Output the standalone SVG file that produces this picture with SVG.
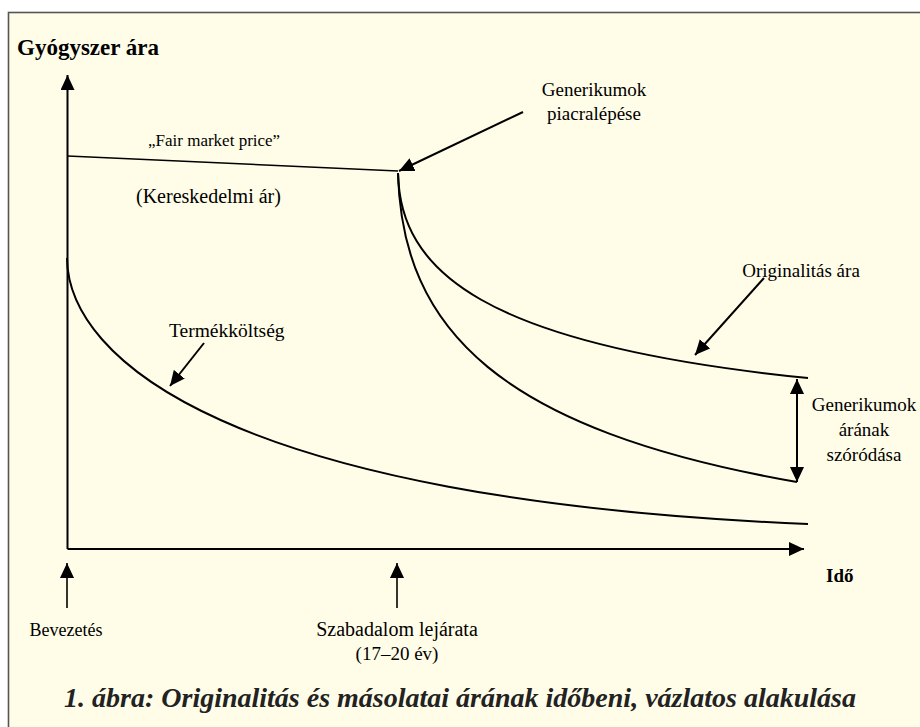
<svg xmlns="http://www.w3.org/2000/svg" width="920" height="727" viewBox="0 0 920 727">
<defs>
<style>
.bg{fill:#FFFDE8;stroke:#555;stroke-width:1.6}
.ln{fill:none;stroke:#000;stroke-width:2}
.thin{fill:none;stroke:#000;stroke-width:1.6}
text{font-family:"Liberation Serif","Times New Roman",Times,"Nimbus Roman",FreeSerif,"Noto Serif","DejaVu Serif",serif}
.t{fill:#000}
.b{font-weight:bold;fill:#000}
.cap{font-weight:bold;font-style:italic;fill:#222}
</style>
<marker id="ah" viewBox="0 0 15 14" refX="15" refY="7" markerWidth="15" markerHeight="14" markerUnits="userSpaceOnUse" orient="auto-start-reverse">
<path d="M0,0 L15,7 L0,14 Z" fill="#000"/>
</marker>
</defs>
<rect class="bg" x="8.5" y="12.5" width="1000" height="1000"/>
<g id="connectors">
<line class="ln" x1="67.5" y1="549" x2="67.5" y2="75" marker-end="url(#ah)"/>
<line class="ln" x1="67.5" y1="549" x2="804" y2="549" marker-end="url(#ah)"/>
<line class="thin" x1="67.5" y1="156" x2="398" y2="171"/>
<path class="ln" d="M398,173 C400,270 480,345 808,378"/>
<path class="ln" d="M398,173 C402,330 500,430 797,482"/>
<path class="ln" d="M67,258 C68,360 230,500 808,524"/>
<line class="ln" x1="523" y1="112" x2="399" y2="171" marker-end="url(#ah)"/>
<line class="ln" x1="764" y1="278" x2="695" y2="355" marker-end="url(#ah)"/>
<line class="ln" x1="204" y1="343" x2="170" y2="386" marker-end="url(#ah)"/>
<line class="ln" x1="797" y1="379" x2="797" y2="482" marker-start="url(#ah)" marker-end="url(#ah)"/>
<line class="thin" x1="67" y1="608" x2="67" y2="563" marker-end="url(#ah)"/>
<line class="thin" x1="397" y1="608" x2="397" y2="563" marker-end="url(#ah)"/>
</g>
<g id="y-axis-label"><text class="b" x="17" y="55" font-size="23">Gyógyszer ára</text></g>
<g id="x-axis-label"><text class="b" x="826" y="582" font-size="19">Idő</text></g>
<g id="fair-market"><text class="t" x="148" y="146" font-size="17">„Fair market price”</text></g>
<g id="kereskedelmi"><text class="t" x="136" y="203" font-size="20">(Kereskedelmi ár)</text></g>
<g id="generikumok-piac"><text class="t" text-anchor="middle" x="594" y="96" font-size="19">Generikumok</text><text class="t" text-anchor="middle" x="594" y="120" font-size="19">piacralépése</text></g>
<g id="originalitas"><text class="t" text-anchor="middle" x="801" y="277" font-size="19">Originalitás ára</text></g>
<g id="szorodas"><text class="t" text-anchor="middle" x="864" y="411" font-size="19">Generikumok</text><text class="t" text-anchor="middle" x="864" y="436" font-size="19">árának</text><text class="t" text-anchor="middle" x="864" y="461" font-size="19">szóródása</text></g>
<g id="termekkoltseg"><text class="t" x="169" y="337" font-size="19.5">Termékköltség</text></g>
<g id="bevezetes"><text class="t" text-anchor="middle" x="66" y="636" font-size="18">Bevezetés</text></g>
<g id="szabadalom"><text class="t" text-anchor="middle" x="397" y="636" font-size="20">Szabadalom lejárata</text><text class="t" text-anchor="middle" x="397" y="660" font-size="19">(17–20 év)</text></g>
<g id="caption"><text class="cap" text-anchor="middle" x="460" y="707" font-size="28">1. ábra: Originalitás és másolatai árának időbeni, vázlatos alakulása</text></g>
</svg>
